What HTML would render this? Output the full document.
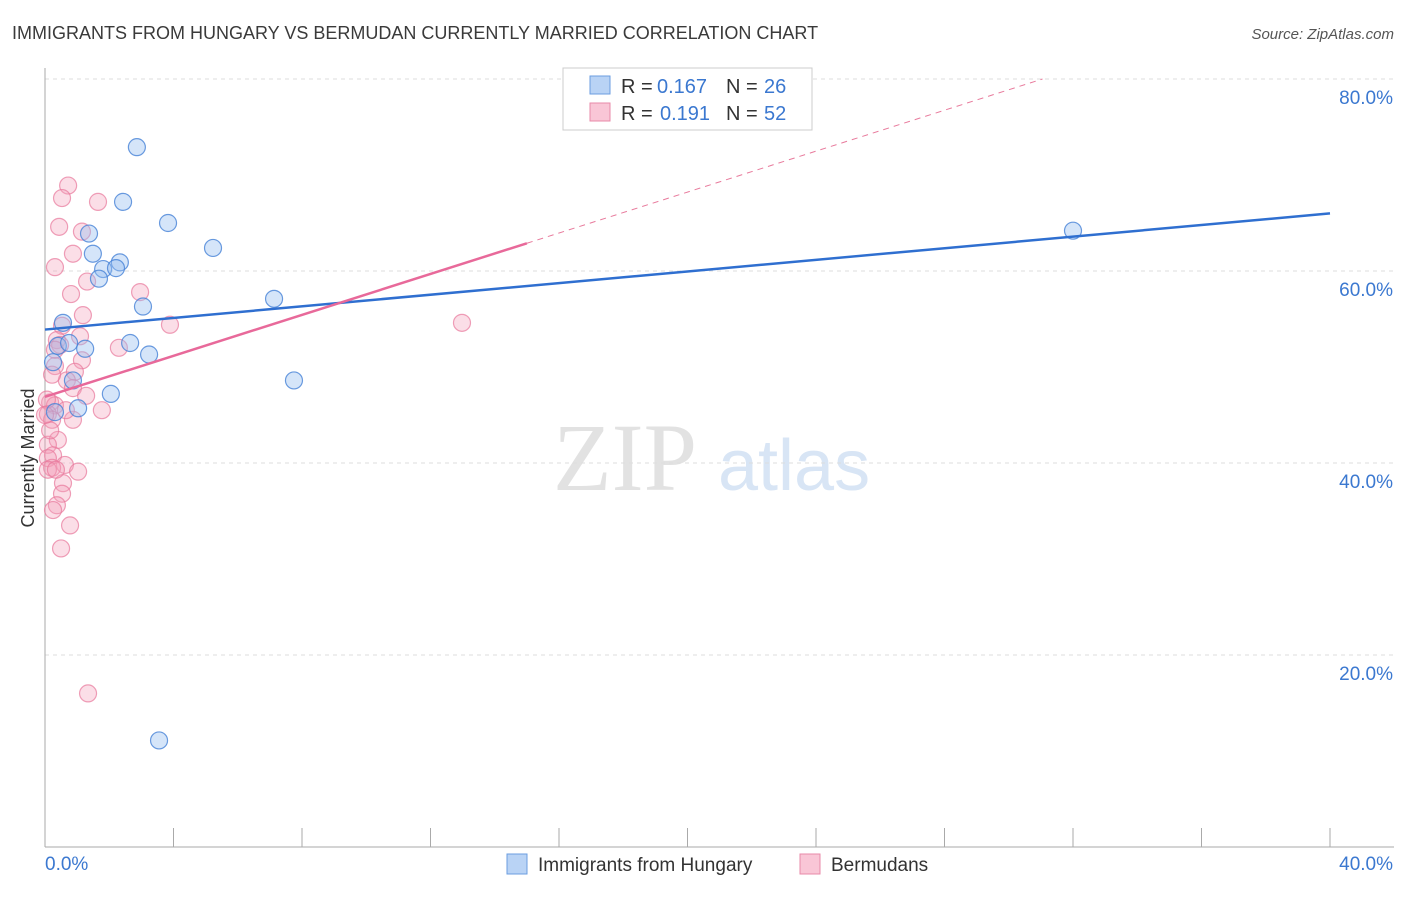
<!DOCTYPE html>
<html><head><meta charset="utf-8"><style>
body{margin:0;background:#fff;font-family:"Liberation Sans",sans-serif}
</style></head><body>
<svg width="1406" height="892" xmlns="http://www.w3.org/2000/svg" id="chart" font-family="Liberation Sans, sans-serif">
<text x="12" y="39" font-size="18" fill="#3a3a3a">IMMIGRANTS FROM HUNGARY VS BERMUDAN CURRENTLY MARRIED CORRELATION CHART</text>
<text x="1394" y="39" font-size="15" fill="#555" font-style="italic" text-anchor="end">Source: ZipAtlas.com</text>
<text x="34" y="458" font-size="18" fill="#333" transform="rotate(-90 34 458)" text-anchor="middle">Currently Married</text>
<text x="553" y="490" font-size="96" fill="#e2e2e2" font-family="Liberation Serif, serif">ZIP</text>
<text x="718" y="490" font-size="72" fill="#d8e5f5">atlas</text>
<g id="grid"></g><g id="axes"></g><g id="marks"></g>
<g>
<rect x="563" y="68" width="249" height="62" fill="#fff" stroke="#ccc"/>
<rect x="590" y="76" width="20" height="18" fill="#b9d3f5" stroke="#6b9ee0"/>
<text x="621" y="93" font-size="20" fill="#333">R =</text>
<text x="657" y="93" font-size="20" fill="#3b78d0">0.167</text>
<text x="726" y="93" font-size="20" fill="#333">N =</text>
<text x="764" y="93" font-size="20" fill="#3b78d0">26</text>
<rect x="590" y="103" width="20" height="18" fill="#f9c6d6" stroke="#e88aa8"/>
<text x="621" y="120" font-size="20" fill="#333">R =</text>
<text x="660" y="120" font-size="20" fill="#3b78d0">0.191</text>
<text x="726" y="120" font-size="20" fill="#333">N =</text>
<text x="764" y="120" font-size="20" fill="#3b78d0">52</text>
</g>
<g>
<rect x="507" y="854" width="20" height="20" fill="#b9d3f5" stroke="#6b9ee0"/>
<text x="538" y="871" font-size="19" fill="#333">Immigrants from Hungary</text>
<rect x="800" y="854" width="20" height="20" fill="#f9c6d6" stroke="#e88aa8"/>
<text x="831" y="871" font-size="19" fill="#333">Bermudans</text>
</g>
</svg>
<script>
const blueX=[2.86,2.43,3.83,1.37,5.23,1.49,2.33,1.81,2.21,1.68,7.13,3.05,0.56,2.65,0.40,0.75,1.25,3.24,0.25,7.75,0.87,2.05,1.03,0.31,3.55,32.0];
const blueY=[72.9,67.2,65.0,63.9,62.4,61.8,60.9,60.2,60.3,59.2,57.1,56.3,54.6,52.5,52.2,52.5,51.9,51.3,50.5,48.6,48.6,47.2,45.7,45.3,11.1,64.2];
const pinkX=[0.72,0.53,1.65,0.44,1.15,0.87,0.31,1.31,0.81,2.96,1.18,0.53,3.89,1.09,0.37,2.30,1.15,0.31,0.93,0.68,0.87,1.28,0.16,1.77,0.31,0.87,0.09,0.22,0.40,0.09,0.25,0.09,0.62,1.03,0.22,0.09,0.56,0.53,0.37,0.25,0.78,0.50,1.34,12.98,0.16,0.34,0.06,0.47,0.22,0.65,0.31,0.0];
const pinkY=[68.9,67.6,67.2,64.6,64.1,61.8,60.4,58.9,57.6,57.8,55.4,54.3,54.4,53.2,52.8,52.0,50.7,50.1,49.5,48.6,47.8,47.0,46.3,45.5,46.0,44.5,45.1,44.5,42.4,41.9,40.8,40.5,39.8,39.1,39.5,39.3,37.9,36.8,35.6,35.1,33.5,31.1,16.0,54.6,43.4,39.3,46.6,52.3,49.2,45.5,51.8,45.0];
const yTicks=[20,40,60,80];
const yTickLabels=["20.0%","40.0%","60.0%","80.0%"];
const xTicks=[0,4,8,12,16,20,24,28,32,36,40];
const blueTrend=[53.9,66.0];
const pinkTrend=[46.9,1.066];
const NS="http://www.w3.org/2000/svg";
const sx=v=>45+v/40*1285, sy=v=>847-v/20*192;
function mk(tag,attrs,parent){const e=document.createElementNS(NS,tag);for(const k in attrs)e.setAttribute(k,attrs[k]);document.getElementById(parent).appendChild(e);return e;}
yTicks.forEach((t,i)=>{
 const g=mk('line',{x1:45,x2:1394,y1:sy(t),y2:sy(t),stroke:'#ddd','stroke-dasharray':'4,4'},'grid');
 
 
 const l=mk('text',{x:1393,y:sy(t)+25,'font-size':19,fill:'#3b78d0','text-anchor':'end'},'grid');l.textContent=yTickLabels[i];
 
 
});
mk('line',{x1:45,x2:45,y1:68,y2:847,stroke:'#aaa'},'axes');
mk('line',{x1:45,x2:1394,y1:847,y2:847,stroke:'#aaa'},'axes');
xTicks.forEach(t=>{const e=mk('line',{x1:sx(t),x2:sx(t),y1:828,y2:847,stroke:'#aaa'},'axes');
 
 });
let t0=mk('text',{x:45,y:870,'font-size':19,fill:'#3b78d0'},'axes');t0.textContent='0.0%';


let t1=mk('text',{x:1393,y:870,'font-size':19,fill:'#3b78d0','text-anchor':'end'},'axes');t1.textContent='40.0%';


pinkX.forEach((x,i)=>{const c=mk('circle',{cx:sx(x),cy:sy(pinkY[i]),r:8.5,fill:'rgba(244,160,185,0.35)',stroke:'rgba(232,120,155,0.7)','stroke-width':1.2},'marks');
 
 });
blueX.forEach((x,i)=>{const c=mk('circle',{cx:sx(x),cy:sy(blueY[i]),r:8.5,fill:'rgba(150,190,240,0.4)',stroke:'rgba(70,130,215,0.8)','stroke-width':1.2},'marks');
 
 });
const bl=mk('line',{x1:sx(0),y1:sy(blueTrend[0]),x2:sx(40),y2:sy(blueTrend[1]),stroke:'#2f6fd0','stroke-width':2.5},'marks');


const pe=(80-pinkTrend[0])/pinkTrend[1];
const pd=mk('line',{x1:sx(15),y1:sy(pinkTrend[0]+15*pinkTrend[1]),x2:sx(pe),y2:sy(80),stroke:'#e87a9c','stroke-width':1,'stroke-dasharray':'6,5'},'marks');


const pl=mk('line',{x1:sx(0),y1:sy(pinkTrend[0]),x2:sx(15),y2:sy(pinkTrend[0]+15*pinkTrend[1]),stroke:'#e8699a','stroke-width':2.5},'marks');


</script>
</body></html>
